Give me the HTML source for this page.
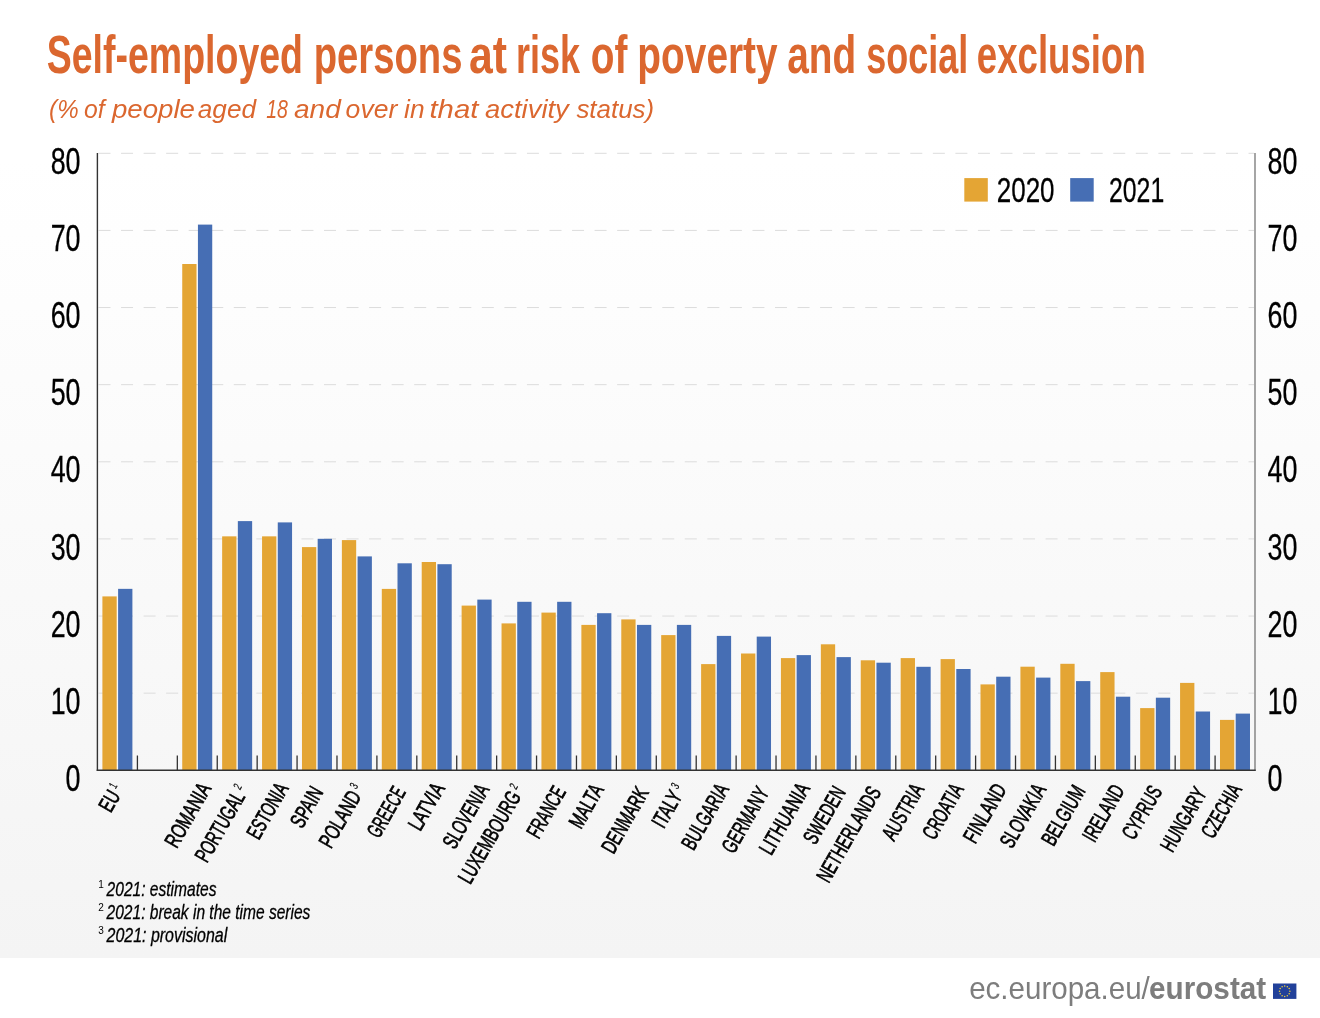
<!DOCTYPE html>
<html><head><meta charset="utf-8"><style>
html,body{margin:0;padding:0;}
body{width:1320px;height:1018px;position:relative;overflow:hidden;background:#fff;font-family:"Liberation Sans",sans-serif;}
#bg{position:absolute;left:0;top:0;width:1320px;height:958px;background:linear-gradient(to bottom,#ffffff 0px,#ffffff 160px,#f4f4f4 958px);}
svg{position:absolute;left:0;top:0;will-change:transform;}
.ax{font-family:"Liberation Sans",sans-serif;font-size:36.5px;fill:#000;stroke:#000;stroke-width:0.3px;}
.lg{font-family:"Liberation Sans",sans-serif;font-size:35px;fill:#000;stroke:#000;stroke-width:0.3px;}
.xl{font-family:"Liberation Sans",sans-serif;font-size:22px;fill:#000;stroke:#000;stroke-width:0.7px;}
.sup{font-size:12px;stroke-width:0.2px;}
.fn{font-family:"Liberation Sans",sans-serif;font-style:italic;font-size:19.5px;fill:#000;stroke:#000;stroke-width:0.3px;}
.fs{font-family:"Liberation Sans",sans-serif;font-size:10px;fill:#000;}
.tt{font-family:"Liberation Sans",sans-serif;font-weight:bold;font-size:54.5px;fill:#DB672F;}
.st{font-family:"Liberation Sans",sans-serif;font-style:italic;font-size:25px;fill:#DB672F;}
.ft{font-family:"Liberation Sans",sans-serif;font-size:30.5px;fill:#7d7d7d;}
</style></head><body>
<div id="bg"></div>
<svg width="1320" height="1018" viewBox="0 0 1320 1018">
<text id="t0" x="46.78" y="73" class="tt" textLength="256.22" lengthAdjust="spacingAndGlyphs">Self-employed</text>
<text id="t1" x="313.75" y="73" class="tt" textLength="148.67" lengthAdjust="spacingAndGlyphs">persons</text>
<text id="t2" x="469.00" y="73" class="tt" textLength="38.00" lengthAdjust="spacingAndGlyphs">at</text>
<text id="t3" x="516.00" y="73" class="tt" textLength="64.00" lengthAdjust="spacingAndGlyphs">risk</text>
<text id="t4" x="590.81" y="73" class="tt" textLength="36.61" lengthAdjust="spacingAndGlyphs">of</text>
<text id="t5" x="637.36" y="73" class="tt" textLength="140.24" lengthAdjust="spacingAndGlyphs">poverty</text>
<text id="t6" x="787.13" y="73" class="tt" textLength="69.03" lengthAdjust="spacingAndGlyphs">and</text>
<text id="t7" x="866.35" y="73" class="tt" textLength="101.89" lengthAdjust="spacingAndGlyphs">social</text>
<text id="t8" x="976.77" y="73" class="tt" textLength="169.03" lengthAdjust="spacingAndGlyphs">exclusion</text>
<text id="s0" x="49.11" y="117.6" class="st" textLength="29.53" lengthAdjust="spacingAndGlyphs">(%</text>
<text id="s1" x="83.91" y="117.6" class="st" textLength="20.64" lengthAdjust="spacingAndGlyphs">of</text>
<text id="s2" x="111.92" y="117.6" class="st" textLength="82.99" lengthAdjust="spacingAndGlyphs">people</text>
<text id="s3" x="197.81" y="117.6" class="st" textLength="58.26" lengthAdjust="spacingAndGlyphs">aged</text>
<text id="s4" x="266.13" y="117.6" class="st" textLength="21.70" lengthAdjust="spacingAndGlyphs">18</text>
<text id="s5" x="294.00" y="117.6" class="st" textLength="46.81" lengthAdjust="spacingAndGlyphs">and</text>
<text id="s6" x="345.64" y="117.6" class="st" textLength="51.64" lengthAdjust="spacingAndGlyphs">over</text>
<text id="s7" x="404.14" y="117.6" class="st" textLength="20.53" lengthAdjust="spacingAndGlyphs">in</text>
<text id="s8" x="429.40" y="117.6" class="st" textLength="48.98" lengthAdjust="spacingAndGlyphs">that</text>
<text id="s9" x="484.99" y="117.6" class="st" textLength="83.84" lengthAdjust="spacingAndGlyphs">activity</text>
<text id="s10" x="576.40" y="117.6" class="st" textLength="77.84" lengthAdjust="spacingAndGlyphs">status)</text>
<line x1="98.5" y1="693.17" x2="1254" y2="693.17" stroke="#dcdcdc" stroke-width="1" stroke-dasharray="12 10.55"/>
<line x1="98.5" y1="616.05" x2="1254" y2="616.05" stroke="#dcdcdc" stroke-width="1" stroke-dasharray="12 10.55"/>
<line x1="98.5" y1="538.92" x2="1254" y2="538.92" stroke="#dcdcdc" stroke-width="1" stroke-dasharray="12 10.55"/>
<line x1="98.5" y1="461.80" x2="1254" y2="461.80" stroke="#dcdcdc" stroke-width="1" stroke-dasharray="12 10.55"/>
<line x1="98.5" y1="384.67" x2="1254" y2="384.67" stroke="#dcdcdc" stroke-width="1" stroke-dasharray="12 10.55"/>
<line x1="98.5" y1="307.55" x2="1254" y2="307.55" stroke="#dcdcdc" stroke-width="1" stroke-dasharray="12 10.55"/>
<line x1="98.5" y1="230.42" x2="1254" y2="230.42" stroke="#dcdcdc" stroke-width="1" stroke-dasharray="12 10.55"/>
<line x1="98.5" y1="153.30" x2="1254" y2="153.30" stroke="#dcdcdc" stroke-width="1" stroke-dasharray="12 10.55"/>
<rect x="102.40" y="596.40" width="14.3" height="173.90" fill="#E4A534"/>
<rect x="118.10" y="588.85" width="14.3" height="181.45" fill="#466EB4"/>
<rect x="182.23" y="264.00" width="14.3" height="506.30" fill="#E4A534"/>
<rect x="197.93" y="224.60" width="14.3" height="545.70" fill="#466EB4"/>
<rect x="222.14" y="536.35" width="14.3" height="233.95" fill="#E4A534"/>
<rect x="237.84" y="521.10" width="14.3" height="249.20" fill="#466EB4"/>
<rect x="262.06" y="536.35" width="14.3" height="233.95" fill="#E4A534"/>
<rect x="277.76" y="522.40" width="14.3" height="247.90" fill="#466EB4"/>
<rect x="301.97" y="547.10" width="14.3" height="223.20" fill="#E4A534"/>
<rect x="317.67" y="538.80" width="14.3" height="231.50" fill="#466EB4"/>
<rect x="341.88" y="540.10" width="14.3" height="230.20" fill="#E4A534"/>
<rect x="357.58" y="556.40" width="14.3" height="213.90" fill="#466EB4"/>
<rect x="381.80" y="588.90" width="14.3" height="181.40" fill="#E4A534"/>
<rect x="397.50" y="563.30" width="14.3" height="207.00" fill="#466EB4"/>
<rect x="421.71" y="562.00" width="14.3" height="208.30" fill="#E4A534"/>
<rect x="437.41" y="564.20" width="14.3" height="206.10" fill="#466EB4"/>
<rect x="461.62" y="605.60" width="14.3" height="164.70" fill="#E4A534"/>
<rect x="477.32" y="599.60" width="14.3" height="170.70" fill="#466EB4"/>
<rect x="501.54" y="623.40" width="14.3" height="146.90" fill="#E4A534"/>
<rect x="517.24" y="601.80" width="14.3" height="168.50" fill="#466EB4"/>
<rect x="541.45" y="612.60" width="14.3" height="157.70" fill="#E4A534"/>
<rect x="557.15" y="601.80" width="14.3" height="168.50" fill="#466EB4"/>
<rect x="581.37" y="624.90" width="14.3" height="145.40" fill="#E4A534"/>
<rect x="597.07" y="613.20" width="14.3" height="157.10" fill="#466EB4"/>
<rect x="621.28" y="619.40" width="14.3" height="150.90" fill="#E4A534"/>
<rect x="636.98" y="624.90" width="14.3" height="145.40" fill="#466EB4"/>
<rect x="661.19" y="635.10" width="14.3" height="135.20" fill="#E4A534"/>
<rect x="676.89" y="624.90" width="14.3" height="145.40" fill="#466EB4"/>
<rect x="701.11" y="664.10" width="14.3" height="106.20" fill="#E4A534"/>
<rect x="716.81" y="635.90" width="14.3" height="134.40" fill="#466EB4"/>
<rect x="741.02" y="653.50" width="14.3" height="116.80" fill="#E4A534"/>
<rect x="756.72" y="636.60" width="14.3" height="133.70" fill="#466EB4"/>
<rect x="780.93" y="658.10" width="14.3" height="112.20" fill="#E4A534"/>
<rect x="796.63" y="655.10" width="14.3" height="115.20" fill="#466EB4"/>
<rect x="820.85" y="644.30" width="14.3" height="126.00" fill="#E4A534"/>
<rect x="836.55" y="657.10" width="14.3" height="113.20" fill="#466EB4"/>
<rect x="860.76" y="660.30" width="14.3" height="110.00" fill="#E4A534"/>
<rect x="876.46" y="662.70" width="14.3" height="107.60" fill="#466EB4"/>
<rect x="900.68" y="658.10" width="14.3" height="112.20" fill="#E4A534"/>
<rect x="916.38" y="666.80" width="14.3" height="103.50" fill="#466EB4"/>
<rect x="940.59" y="659.10" width="14.3" height="111.20" fill="#E4A534"/>
<rect x="956.29" y="669.00" width="14.3" height="101.30" fill="#466EB4"/>
<rect x="980.50" y="684.40" width="14.3" height="85.90" fill="#E4A534"/>
<rect x="996.20" y="676.70" width="14.3" height="93.60" fill="#466EB4"/>
<rect x="1020.42" y="666.70" width="14.3" height="103.60" fill="#E4A534"/>
<rect x="1036.12" y="677.60" width="14.3" height="92.70" fill="#466EB4"/>
<rect x="1060.33" y="663.80" width="14.3" height="106.50" fill="#E4A534"/>
<rect x="1076.03" y="681.10" width="14.3" height="89.20" fill="#466EB4"/>
<rect x="1100.24" y="672.10" width="14.3" height="98.20" fill="#E4A534"/>
<rect x="1115.94" y="696.70" width="14.3" height="73.60" fill="#466EB4"/>
<rect x="1140.16" y="708.10" width="14.3" height="62.20" fill="#E4A534"/>
<rect x="1155.86" y="697.70" width="14.3" height="72.60" fill="#466EB4"/>
<rect x="1180.07" y="682.90" width="14.3" height="87.40" fill="#E4A534"/>
<rect x="1195.77" y="711.50" width="14.3" height="58.80" fill="#466EB4"/>
<rect x="1219.99" y="719.90" width="14.3" height="50.40" fill="#E4A534"/>
<rect x="1235.69" y="713.60" width="14.3" height="56.70" fill="#466EB4"/>
<line x1="97.4" y1="153" x2="97.4" y2="771.00" stroke="#333" stroke-width="1.4"/>
<line x1="1255" y1="153" x2="1255" y2="771.00" stroke="#6a6a6a" stroke-width="1.2"/>
<line x1="96.7" y1="770.30" x2="1255.7" y2="770.30" stroke="#333" stroke-width="1.4"/>
<line x1="137.41" y1="755.5" x2="137.41" y2="770.30" stroke="#333" stroke-width="1.3"/>
<line x1="177.33" y1="755.5" x2="177.33" y2="770.30" stroke="#333" stroke-width="1.3"/>
<line x1="217.24" y1="755.5" x2="217.24" y2="770.30" stroke="#333" stroke-width="1.3"/>
<line x1="257.16" y1="755.5" x2="257.16" y2="770.30" stroke="#333" stroke-width="1.3"/>
<line x1="297.07" y1="755.5" x2="297.07" y2="770.30" stroke="#333" stroke-width="1.3"/>
<line x1="336.98" y1="755.5" x2="336.98" y2="770.30" stroke="#333" stroke-width="1.3"/>
<line x1="376.90" y1="755.5" x2="376.90" y2="770.30" stroke="#333" stroke-width="1.3"/>
<line x1="416.81" y1="755.5" x2="416.81" y2="770.30" stroke="#333" stroke-width="1.3"/>
<line x1="456.72" y1="755.5" x2="456.72" y2="770.30" stroke="#333" stroke-width="1.3"/>
<line x1="496.64" y1="755.5" x2="496.64" y2="770.30" stroke="#333" stroke-width="1.3"/>
<line x1="536.55" y1="755.5" x2="536.55" y2="770.30" stroke="#333" stroke-width="1.3"/>
<line x1="576.47" y1="755.5" x2="576.47" y2="770.30" stroke="#333" stroke-width="1.3"/>
<line x1="616.38" y1="755.5" x2="616.38" y2="770.30" stroke="#333" stroke-width="1.3"/>
<line x1="656.29" y1="755.5" x2="656.29" y2="770.30" stroke="#333" stroke-width="1.3"/>
<line x1="696.21" y1="755.5" x2="696.21" y2="770.30" stroke="#333" stroke-width="1.3"/>
<line x1="736.12" y1="755.5" x2="736.12" y2="770.30" stroke="#333" stroke-width="1.3"/>
<line x1="776.03" y1="755.5" x2="776.03" y2="770.30" stroke="#333" stroke-width="1.3"/>
<line x1="815.95" y1="755.5" x2="815.95" y2="770.30" stroke="#333" stroke-width="1.3"/>
<line x1="855.86" y1="755.5" x2="855.86" y2="770.30" stroke="#333" stroke-width="1.3"/>
<line x1="895.78" y1="755.5" x2="895.78" y2="770.30" stroke="#333" stroke-width="1.3"/>
<line x1="935.69" y1="755.5" x2="935.69" y2="770.30" stroke="#333" stroke-width="1.3"/>
<line x1="975.60" y1="755.5" x2="975.60" y2="770.30" stroke="#333" stroke-width="1.3"/>
<line x1="1015.52" y1="755.5" x2="1015.52" y2="770.30" stroke="#333" stroke-width="1.3"/>
<line x1="1055.43" y1="755.5" x2="1055.43" y2="770.30" stroke="#333" stroke-width="1.3"/>
<line x1="1095.34" y1="755.5" x2="1095.34" y2="770.30" stroke="#333" stroke-width="1.3"/>
<line x1="1135.26" y1="755.5" x2="1135.26" y2="770.30" stroke="#333" stroke-width="1.3"/>
<line x1="1175.17" y1="755.5" x2="1175.17" y2="770.30" stroke="#333" stroke-width="1.3"/>
<line x1="1215.09" y1="755.5" x2="1215.09" y2="770.30" stroke="#333" stroke-width="1.3"/>
<text x="80.5" y="790.90" class="ax" text-anchor="end" transform="translate(80.5 0) scale(0.735 1) translate(-80.5 0)">0</text>
<text x="1267.5" y="790.90" class="ax" transform="translate(1267.5 0) scale(0.735 1) translate(-1267.5 0)">0</text>
<text x="80.5" y="713.77" class="ax" text-anchor="end" transform="translate(80.5 0) scale(0.735 1) translate(-80.5 0)">10</text>
<text x="1267.5" y="713.77" class="ax" transform="translate(1267.5 0) scale(0.735 1) translate(-1267.5 0)">10</text>
<text x="80.5" y="636.65" class="ax" text-anchor="end" transform="translate(80.5 0) scale(0.735 1) translate(-80.5 0)">20</text>
<text x="1267.5" y="636.65" class="ax" transform="translate(1267.5 0) scale(0.735 1) translate(-1267.5 0)">20</text>
<text x="80.5" y="559.52" class="ax" text-anchor="end" transform="translate(80.5 0) scale(0.735 1) translate(-80.5 0)">30</text>
<text x="1267.5" y="559.52" class="ax" transform="translate(1267.5 0) scale(0.735 1) translate(-1267.5 0)">30</text>
<text x="80.5" y="482.40" class="ax" text-anchor="end" transform="translate(80.5 0) scale(0.735 1) translate(-80.5 0)">40</text>
<text x="1267.5" y="482.40" class="ax" transform="translate(1267.5 0) scale(0.735 1) translate(-1267.5 0)">40</text>
<text x="80.5" y="405.27" class="ax" text-anchor="end" transform="translate(80.5 0) scale(0.735 1) translate(-80.5 0)">50</text>
<text x="1267.5" y="405.27" class="ax" transform="translate(1267.5 0) scale(0.735 1) translate(-1267.5 0)">50</text>
<text x="80.5" y="328.15" class="ax" text-anchor="end" transform="translate(80.5 0) scale(0.735 1) translate(-80.5 0)">60</text>
<text x="1267.5" y="328.15" class="ax" transform="translate(1267.5 0) scale(0.735 1) translate(-1267.5 0)">60</text>
<text x="80.5" y="251.02" class="ax" text-anchor="end" transform="translate(80.5 0) scale(0.735 1) translate(-80.5 0)">70</text>
<text x="1267.5" y="251.02" class="ax" transform="translate(1267.5 0) scale(0.735 1) translate(-1267.5 0)">70</text>
<text x="80.5" y="173.90" class="ax" text-anchor="end" transform="translate(80.5 0) scale(0.735 1) translate(-80.5 0)">80</text>
<text x="1267.5" y="173.90" class="ax" transform="translate(1267.5 0) scale(0.735 1) translate(-1267.5 0)">80</text>
<rect x="964.3" y="178.1" width="23.5" height="23.5" fill="#E4A534"/>
<rect x="1070.2" y="178.1" width="23.5" height="23.5" fill="#466EB4"/>
<text class="xl" text-anchor="end" textLength="27.47" lengthAdjust="spacingAndGlyphs" transform="translate(124.59 789.74) rotate(-60)">EU<tspan class="sup" dx="4" dy="-8">1</tspan></text>
<text class="xl" text-anchor="end" textLength="70.34" lengthAdjust="spacingAndGlyphs" transform="translate(211.86 788.31) rotate(-60)">ROMANIA</text>
<text class="xl" text-anchor="end" textLength="84.44" lengthAdjust="spacingAndGlyphs" transform="translate(249.19 790.71) rotate(-60)">PORTUGAL<tspan class="sup" dx="4" dy="-8">2</tspan></text>
<text class="xl" text-anchor="end" textLength="60.68" lengthAdjust="spacingAndGlyphs" transform="translate(289.02 788.28) rotate(-60)">ESTONIA</text>
<text class="xl" text-anchor="end" textLength="43.13" lengthAdjust="spacingAndGlyphs" transform="translate(323.89 792.03) rotate(-60)">SPAIN</text>
<text class="xl" text-anchor="end" textLength="68.99" lengthAdjust="spacingAndGlyphs" transform="translate(365.47 789.73) rotate(-60)">POLAND<tspan class="sup" dx="4" dy="-8">3</tspan></text>
<text class="xl" text-anchor="end" textLength="54.48" lengthAdjust="spacingAndGlyphs" transform="translate(406.35 792.15) rotate(-60)">GREECE</text>
<text class="xl" text-anchor="end" textLength="50.54" lengthAdjust="spacingAndGlyphs" transform="translate(445.44 788.36) rotate(-60)">LATVIA</text>
<text class="xl" text-anchor="end" textLength="70.54" lengthAdjust="spacingAndGlyphs" transform="translate(489.99 789.27) rotate(-60)">SLOVENIA</text>
<text class="xl" text-anchor="end" textLength="109.27" lengthAdjust="spacingAndGlyphs" transform="translate(524.99 790.52) rotate(-60)">LUXEMBOURG<tspan class="sup" dx="4" dy="-8">2</tspan></text>
<text class="xl" text-anchor="end" textLength="55.59" lengthAdjust="spacingAndGlyphs" transform="translate(566.42 791.61) rotate(-60)">FRANCE</text>
<text class="xl" text-anchor="end" textLength="47.03" lengthAdjust="spacingAndGlyphs" transform="translate(604.49 789.40) rotate(-60)">MALTA</text>
<text class="xl" text-anchor="end" textLength="72.09" lengthAdjust="spacingAndGlyphs" transform="translate(649.43 792.54) rotate(-60)">DENMARK</text>
<text class="xl" text-anchor="end" textLength="45.85" lengthAdjust="spacingAndGlyphs" transform="translate(686.57 789.85) rotate(-60)">ITALY<tspan class="sup" dx="4" dy="-8">3</tspan></text>
<text class="xl" text-anchor="end" textLength="72.12" lengthAdjust="spacingAndGlyphs" transform="translate(729.63 789.06) rotate(-60)">BULGARIA</text>
<text class="xl" text-anchor="end" textLength="71.99" lengthAdjust="spacingAndGlyphs" transform="translate(769.66 792.31) rotate(-60)">GERMANY</text>
<text class="xl" text-anchor="end" textLength="78.46" lengthAdjust="spacingAndGlyphs" transform="translate(810.48 788.37) rotate(-60)">LITHUANIA</text>
<text class="xl" text-anchor="end" textLength="61.92" lengthAdjust="spacingAndGlyphs" transform="translate(846.31 792.04) rotate(-60)">SWEDEN</text>
<text class="xl" text-anchor="end" textLength="106.26" lengthAdjust="spacingAndGlyphs" transform="translate(881.81 791.95) rotate(-60)">NETHERLANDS</text>
<text class="xl" text-anchor="end" textLength="61.34" lengthAdjust="spacingAndGlyphs" transform="translate(924.68 788.97) rotate(-60)">AUSTRIA</text>
<text class="xl" text-anchor="end" textLength="59.88" lengthAdjust="spacingAndGlyphs" transform="translate(964.40 789.07) rotate(-60)">CROATIA</text>
<text class="xl" text-anchor="end" textLength="64.02" lengthAdjust="spacingAndGlyphs" transform="translate(1007.21 789.19) rotate(-60)">FINLAND</text>
<text class="xl" text-anchor="end" textLength="69.54" lengthAdjust="spacingAndGlyphs" transform="translate(1046.81 789.25) rotate(-60)">SLOVAKIA</text>
<text class="xl" text-anchor="end" textLength="65.09" lengthAdjust="spacingAndGlyphs" transform="translate(1086.06 790.92) rotate(-60)">BELGIUM</text>
<text class="xl" text-anchor="end" textLength="61.52" lengthAdjust="spacingAndGlyphs" transform="translate(1125.19 790.20) rotate(-60)">IRELAND</text>
<text class="xl" text-anchor="end" textLength="57.50" lengthAdjust="spacingAndGlyphs" transform="translate(1162.76 791.22) rotate(-60)">CYPRUS</text>
<text class="xl" text-anchor="end" textLength="69.83" lengthAdjust="spacingAndGlyphs" transform="translate(1207.32 793.01) rotate(-60)">HUNGARY</text>
<text class="xl" text-anchor="end" textLength="58.36" lengthAdjust="spacingAndGlyphs" transform="translate(1242.31 789.23) rotate(-60)">CZECHIA</text>
<text x="98.3" y="887.8" class="fs">1</text><text id="f0" x="106.59" y="895.8" class="fn" textLength="109.84" lengthAdjust="spacingAndGlyphs">2021: estimates</text>
<text x="98.3" y="911.3" class="fs">2</text><text id="f1" x="106.59" y="919.3" class="fn" textLength="203.80" lengthAdjust="spacingAndGlyphs">2021: break in the time series</text>
<text x="98.3" y="934.3" class="fs">3</text><text id="f2" x="106.57" y="942.3" class="fn" textLength="120.63" lengthAdjust="spacingAndGlyphs">2021: provisional</text>
<text id="u0" x="969.18" y="998.9" class="ft" textLength="180.63" lengthAdjust="spacingAndGlyphs">ec.europa.eu/</text><text id="u1" x="1149.01" y="998.9" class="ft" textLength="117.19" lengthAdjust="spacingAndGlyphs" font-weight="bold" fill="#6f6f6f">eurostat</text>
<text id="g0" x="996.69" y="202.3" class="lg" textLength="57.91" lengthAdjust="spacingAndGlyphs">2020</text><text id="g1" x="1108.98" y="202.3" class="lg" textLength="55.23" lengthAdjust="spacingAndGlyphs">2021</text>
<g transform="translate(1273 983.5)">
<rect width="23.4" height="15.4" fill="#22419A"/>
<g fill="#F0D23A"><circle cx="11.70" cy="2.50" r="0.75"/><circle cx="14.30" cy="3.20" r="0.75"/><circle cx="16.20" cy="5.10" r="0.75"/><circle cx="16.90" cy="7.70" r="0.75"/><circle cx="16.20" cy="10.30" r="0.75"/><circle cx="14.30" cy="12.20" r="0.75"/><circle cx="11.70" cy="12.90" r="0.75"/><circle cx="9.10" cy="12.20" r="0.75"/><circle cx="7.20" cy="10.30" r="0.75"/><circle cx="6.50" cy="7.70" r="0.75"/><circle cx="7.20" cy="5.10" r="0.75"/><circle cx="9.10" cy="3.20" r="0.75"/></g>
</g>
</svg>
</body></html>
